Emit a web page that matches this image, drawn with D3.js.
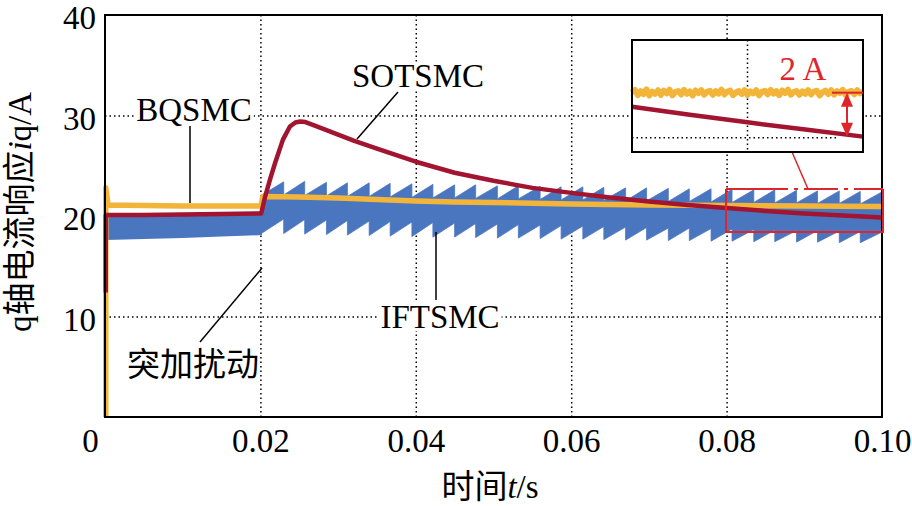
<!DOCTYPE html>
<html><head><meta charset="utf-8">
<script src="https://cdn.jsdelivr.net/npm/d3@7/dist/d3.min.js"></script>
<style>
html,body{margin:0;padding:0;background:#fff;}
svg text{font-family:"Liberation Serif","Times New Roman","Noto Sans CJK SC",serif;}
</style></head>
<body><svg id="c" width="912" height="506"></svg>
<script>
// ---------------- data ----------------
const xTicks = [0, 0.02, 0.04, 0.06, 0.08, 0.10];
const xTickLabels = ["0", "0.02", "0.04", "0.06", "0.08", "0.10"];
const yTicks = [10, 20, 30, 40];
const yTickLabels = ["10", "20", "30", "40"];

// BQSMC (yellow)
const bqT = [0.0001, 0.0001, 0.0004, 0.005, 0.010, 0.015, 0.0201, 0.0203, 0.025, 0.030, 0.035, 0.040, 0.045, 0.050, 0.060, 0.070, 0.080, 0.090, 0.100];
const bqI = [0.0, 22.8, 21.1, 21.05, 21.0, 21.0, 21.0, 21.95, 21.9, 21.8, 21.65, 21.5, 21.4, 21.35, 21.2, 21.1, 21.05, 21.0, 20.95];

// SOTSMC (dark red)
const soT = [0.0001, 0.0001, 0.005, 0.010, 0.015, 0.0201, 0.0206, 0.0213, 0.0219, 0.0229, 0.0238, 0.0245, 0.0251, 0.0258, 0.0270, 0.0300, 0.0320, 0.0350, 0.0400, 0.0450, 0.0500, 0.0550, 0.0600, 0.0650, 0.0700, 0.0750, 0.0800, 0.0850, 0.0900, 0.0950, 0.1000];
const soI = [12.4, 20.1, 20.1, 20.15, 20.2, 20.25, 21.9, 23.8, 25.3, 27.6, 28.9, 29.3, 29.4, 29.35, 29.0, 28.1, 27.5, 26.7, 25.4, 24.3, 23.5, 22.8, 22.3, 21.85, 21.45, 21.1, 20.8, 20.5, 20.25, 20.05, 19.85];

// IFTSMC (blue) before disturbance: band envelope
const ifPreT = [0.00015, 0.005, 0.010, 0.015, 0.0202];
const ifPreTop = [19.9, 20.0, 20.05, 20.1, 20.2];
const ifPreBot = [17.6, 17.7, 17.8, 17.95, 18.1];
// IFTSMC after disturbance: sawtooth tooth boundaries and envelopes per tooth
const ifToothT = [0.0202, 0.0230, 0.0257, 0.0285, 0.0312, 0.0340, 0.0367, 0.0395, 0.0422, 0.0450, 0.0477, 0.0505, 0.0532, 0.0560, 0.0587, 0.0615, 0.0642, 0.0670, 0.0697, 0.0725, 0.0752, 0.0780, 0.0807, 0.0835, 0.0862, 0.0890, 0.0917, 0.0945, 0.0972, 0.1000];
const ifUpHi = [23.4, 23.45, 23.35, 23.3, 23.3, 23.25, 23.2, 23.15, 23.1, 23.1, 23.0, 23.0, 22.95, 22.9, 22.9, 22.85, 22.8, 22.8, 22.75, 22.7, 22.7, 22.65, 22.6, 22.6, 22.55, 22.5, 22.5, 22.45, 22.4];
const ifUpLo = [22.1, 22.1, 22.05, 22.0, 21.95, 21.95, 21.9, 21.85, 21.8, 21.8, 21.75, 21.7, 21.7, 21.65, 21.6, 21.6, 21.55, 21.5, 21.5, 21.45, 21.45, 21.4, 21.35, 21.35, 21.3, 21.3, 21.25, 21.25, 21.2];
const ifLoHi = [19.7, 19.65, 19.6, 19.55, 19.5, 19.45, 19.4, 19.35, 19.3, 19.25, 19.2, 19.15, 19.1, 19.05, 19.0, 18.95, 18.9, 18.85, 18.8, 18.8, 18.75, 18.7, 18.65, 18.6, 18.55, 18.55, 18.5, 18.45, 18.4];
const ifLoLo = [18.3, 18.25, 18.2, 18.15, 18.1, 18.05, 18.0, 17.95, 17.9, 17.9, 17.85, 17.8, 17.8, 17.75, 17.7, 17.7, 17.65, 17.6, 17.6, 17.55, 17.55, 17.5, 17.5, 17.45, 17.45, 17.4, 17.4, 17.35, 17.35];

// inset (zoom of 0.08–0.10 s), BQSMC sampled every 0.25 ms
const inBq = [22.05,22.18,21.94,22.12,21.99,22.2,21.92,22.1,22.0,22.16,
  21.95,22.14,22.02,22.19,21.93,22.08,22.13,21.97,22.18,22.0,
  22.11,21.92,22.15,22.03,22.17,21.96,22.09,22.14,21.95,22.12,
  22.01,22.19,21.97,22.1,22.15,21.94,22.06,22.13,21.99,22.17,
  21.95,22.11,22.02,22.16,21.93,22.09,22.14,21.98,22.18,22.01,
  22.12,21.94,22.15,22.04,22.19,21.96,22.08,22.13,21.95,22.11,
  22.0,22.17,21.97,22.1,22.14,21.93,22.07,22.15,21.99,22.16,
  21.96,22.12,22.03,22.18,21.94,22.09,22.13,21.98,22.16,22.02,22.08];
const inSoT = [0.0800, 0.0850, 0.0900, 0.0950, 0.1000];
const inSoI = [21.41, 21.05, 20.7, 20.37, 20.05];

// ---------------- drawing ----------------
const svg = d3.select("#c");
const W = 912, H = 506;
const C_BLUE = "#4a76c0", C_YEL = "#f2b53a", C_RED = "#a2142f", C_ANN = "#e0242c";
const SERIF = "'Liberation Serif','Times New Roman',serif";
const x = d3.scaleLinear().domain([0, 0.1]).range([105, 882]);
const y = d3.scaleLinear().domain([0, 40]).range([417, 15]);

svg.append("rect").attr("width", W).attr("height", H).attr("fill", "#fff");

// grid
const gridX = svg.append("g").attr("transform", `translate(0,${y(0)})`)
  .call(d3.axisBottom(x).tickValues([0.02, 0.04, 0.06, 0.08]).tickSize(-(y(0) - y(40))).tickFormat(""));
gridX.select(".domain").remove();
gridX.selectAll("line").attr("stroke", "#000").attr("stroke-width", 1.5).attr("stroke-dasharray", "1.5,3");
const gridY = svg.append("g").attr("transform", `translate(${x(0)},0)`)
  .call(d3.axisLeft(y).tickValues([10, 20, 30]).tickSize(-(x(0.1) - x(0))).tickFormat(""));
gridY.select(".domain").remove();
gridY.selectAll("line").attr("stroke", "#000").attr("stroke-width", 1.5).attr("stroke-dasharray", "1.5,3");

// IFTSMC band
const area = d3.area().x(d => x(d[0])).y0(d => y(d[1])).y1(d => y(d[2]));
const pre = ifPreT.map((t, i) => [t, ifPreBot[i], ifPreTop[i]]);
svg.append("path").attr("d", area(pre)).attr("fill", C_BLUE);
const upper = [], lower = [];
for (let k = 0; k < ifUpHi.length; k++) {
  upper.push([ifToothT[k], ifUpLo[k]], [ifToothT[k + 1], ifUpHi[k]]);
  lower.push([ifToothT[k], ifLoLo[k]], [ifToothT[k + 1], ifLoHi[k]]);
}
const poly = upper.concat(lower.slice().reverse());
svg.append("path")
  .attr("d", d3.line().x(d => x(d[0])).y(d => y(d[1]))(poly) + "Z")
  .attr("fill", C_BLUE).attr("stroke", C_BLUE).attr("stroke-width", 0.8);

// BQSMC
const line = d3.line().x(d => x(d[0])).y(d => y(d[1]));
svg.append("path").attr("d", line(bqT.map((t, i) => [t, bqI[i]])))
  .attr("fill", "none").attr("stroke", C_YEL).attr("stroke-width", 5.5).attr("stroke-linejoin", "round");
// SOTSMC
svg.append("path").attr("d", line(soT.map((t, i) => [t, soI[i]])))
  .attr("fill", "none").attr("stroke", C_RED).attr("stroke-width", 4.5).attr("stroke-linejoin", "round");

// frame
svg.append("rect").attr("x", x(0)).attr("y", y(40)).attr("width", x(0.1) - x(0)).attr("height", y(0) - y(40))
  .attr("fill", "none").attr("stroke", "#000").attr("stroke-width", 2);

// axes labels
const FS = 33;
const ax = svg.append("g").attr("transform", `translate(0,${y(0)})`)
  .call(d3.axisBottom(x).tickValues(xTicks).tickSize(0).tickPadding(12).tickFormat((d, i) => xTickLabels[i]));
ax.attr("font-family", SERIF).attr("font-size", FS);
ax.select(".domain").remove();
ax.selectAll("text").attr("font-size", FS).attr("fill", "#000").style("font-family", SERIF)
  .attr("dx", (d, i) => i === 0 ? -15 : 0);
const ay = svg.append("g").attr("transform", `translate(${x(0)},0)`)
  .call(d3.axisLeft(y).tickValues(yTicks).tickSize(0).tickPadding(9).tickFormat((d, i) => yTickLabels[i]));
ay.attr("font-family", SERIF).attr("font-size", FS);
ay.select(".domain").remove();
ay.selectAll("text").attr("font-size", FS).attr("fill", "#000").attr("dy", "0.42em").style("font-family", SERIF);

// axis titles
const xt = svg.append("text").attr("x", 490).attr("y", 498).attr("text-anchor", "middle").attr("font-size", FS);
xt.append("tspan").text("时间");
xt.append("tspan").attr("font-style", "italic").text("t");
xt.append("tspan").text("/s");
const yt = svg.append("text").attr("transform", "translate(31,212) rotate(-90)").attr("text-anchor", "middle").attr("font-size", FS);
yt.append("tspan").text("q轴电流响应");
yt.append("tspan").attr("font-style", "italic").text("i");
yt.append("tspan").text("q/A");

// annotations
function label(txt, cx, base, bg) {
  const t = svg.append("text").attr("x", cx).attr("y", base).attr("text-anchor", "middle").attr("font-size", FS).text(txt);
  if (bg) {
    const b = t.node().getBBox();
    svg.insert("rect", () => t.node()).attr("x", b.x - 2).attr("y", b.y + 4).attr("width", b.width + 4).attr("height", b.height - 8).attr("fill", "#fff");
  }
  return t;
}
function seg(x1, y1, x2, y2, col, w) {
  svg.append("line").attr("x1", x1).attr("y1", y1).attr("x2", x2).attr("y2", y2).attr("stroke", col || "#000").attr("stroke-width", w || 1.5);
}
label("BQSMC", 194, 121, true);
seg(190, 126, 190, 203);
label("SOTSMC", 418, 87, true);
seg(398, 92, 357, 139);
label("IFTSMC", 440, 328, true);
seg(436, 232, 436, 300);
label("突加扰动", 193, 376, false);
seg(200, 342, 262, 268);

// red rectangle (zoom region)
const rx0 = 726, rx1 = 883, ry0 = 189, ry1 = 232;
svg.append("path").attr("d", `M${rx0},${ry0}V${ry1}H${rx1}V${ry0}`).attr("fill", "none").attr("stroke", C_ANN).attr("stroke-width", 2);
svg.append("line").attr("x1", rx0).attr("y1", ry0).attr("x2", rx1).attr("y2", ry0)
  .attr("stroke", C_ANN).attr("stroke-width", 2).attr("stroke-dasharray", "62,6,4,6,34,6,4,6,200");
seg(792, 152, 808, 189, C_ANN, 1.5);

// inset
const ix = d3.scaleLinear().domain([0.08, 0.1]).range([632, 863]);
const iy = d3.scaleLinear().domain([19.35, 24.45]).range([152, 40]);
const inset = svg.append("g");
inset.append("rect").attr("x", 632).attr("y", 40).attr("width", 231).attr("height", 112).attr("fill", "#fff");
inset.append("line").attr("x1", ix(0.09)).attr("x2", ix(0.09)).attr("y1", 40).attr("y2", 152)
  .attr("stroke", "#000").attr("stroke-width", 1.5).attr("stroke-dasharray", "1.5,3");
inset.append("line").attr("x1", 632).attr("x2", 836).attr("y1", iy(20)).attr("y2", iy(20))
  .attr("stroke", "#000").attr("stroke-width", 1.5).attr("stroke-dasharray", "1.5,3");
const iline = d3.line().x(d => ix(d[0])).y(d => iy(d[1]));
const inT = inBq.map((v, i) => 0.08 + i * 0.02 / (inBq.length - 1));
inset.append("path").attr("d", iline(inT.map((t, i) => [t, inBq[i]])))
  .attr("fill", "none").attr("stroke", C_YEL).attr("stroke-width", 6).attr("stroke-linejoin", "round");
inset.append("path").attr("d", iline(inSoT.map((t, i) => [t, inSoI[i]])))
  .attr("fill", "none").attr("stroke", C_RED).attr("stroke-width", 4.5);
inset.append("rect").attr("x", 632).attr("y", 40).attr("width", 231).attr("height", 112)
  .attr("fill", "none").attr("stroke", "#000").attr("stroke-width", 2);
// 2 A arrow
const ax0 = 847, ayTop = iy(22.05), ayBot = iy(20.05);
seg(832, ayTop, 863, ayTop, C_ANN, 2);
seg(ax0, ayTop + 10, ax0, ayBot - 10, C_ANN, 2);
svg.append("path").attr("d", `M${ax0},${ayTop}l-6,14h12z`).attr("fill", C_ANN);
svg.append("path").attr("d", `M${ax0},${ayBot}l-6,-14h12z`).attr("fill", C_ANN);
svg.append("text").attr("x", 803).attr("y", 80).attr("text-anchor", "middle").attr("font-size", FS).attr("fill", C_ANN).text("2 A");
</script></body></html>
